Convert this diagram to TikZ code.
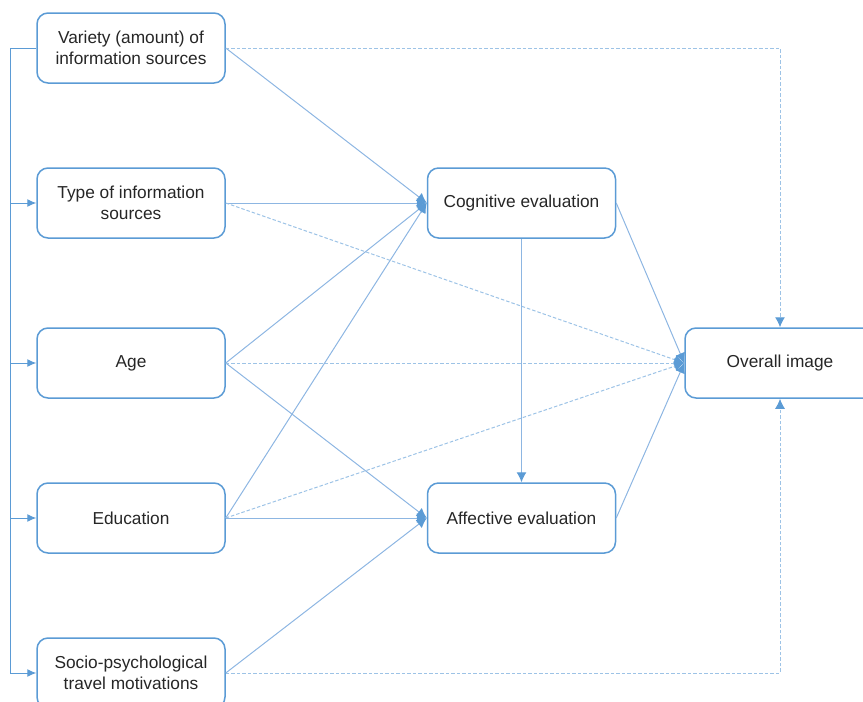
\documentclass[tikz,border=0pt]{standalone}
\usepackage{fontspec}
\setmainfont{Liberation Sans}
\usetikzlibrary{arrows.meta}
\definecolor{boxc}{HTML}{5B9BD5}
\definecolor{linec}{HTML}{8DB6E2}
\definecolor{dashc}{HTML}{9DC3E6}
\begin{document}
\begin{tikzpicture}[x=1pt,y=-1pt,
  box/.style={draw=boxc,line width=1.5pt,rounded corners=11pt,minimum width=188pt,minimum height=70pt,align=center,font=\fontsize{17.3}{21}\selectfont,text=black!85,inner sep=0pt},
  con/.style={draw=linec,line width=1pt,-{Latex[length=10pt,width=10pt,fill=boxc,color=boxc]}},
  dsh/.style={con,draw=dashc,dash pattern=on 3.5pt off 2pt},
  bus/.style={draw=boxc,line width=1pt},
  bar/.style={bus,-{Latex[length=9pt,width=8pt]}}]
\clip (0,0) rectangle (863,702);
\node[box] (var) at (131,48) {Variety (amount) of\\information sources};
\node[box] (typ) at (131,203) {Type of information\\sources};
\node[box] (age) at (131,363) {Age};
\node[box] (edu) at (131,518) {Education};
\node[box] (soc) at (131,673) {Socio-psychological\\travel motivations};
\node[box] (cog) at (521.5,203) {Cognitive evaluation};
\node[box] (aff) at (521.5,518) {Affective evaluation};
\node[box,minimum width=190pt] (ovr) at (780,363) {Overall image};
% left bus
\coordinate (btop) at (10,48);
\coordinate (bbot) at (10,673);
\draw[bus] (var.west) -- (btop) -- (bbot);
\draw[bar] (bbot) -- (soc.west);
\draw[bar] (btop |- typ.west) -- (typ.west);
\draw[bar] (btop |- age.west) -- (age.west);
\draw[bar] (btop |- edu.west) -- (edu.west);
% to cognitive
\draw[con] (var.east) -- (cog.west);
\draw[con] (typ.east) -- (cog.west);
\draw[con] (age.east) -- (cog.west);
\draw[con] (edu.east) -- (cog.west);
% to affective
\draw[con] (age.east) -- (aff.west);
\draw[con] (edu.east) -- (aff.west);
\draw[con] (soc.east) -- (aff.west);
% dashed to overall
\draw[dsh] (typ.east) -- (ovr.west);
\draw[dsh] (age.east) -- (ovr.west);
\draw[dsh] (edu.east) -- (ovr.west);
\draw[dsh] (var.east) -- (var.east -| ovr.north) -- (ovr.north);
\draw[dsh] (soc.east) -- (soc.east -| ovr.south) -- (ovr.south);
% evaluations to overall
\draw[con] (cog.east) -- (ovr.west);
\draw[con] (aff.east) -- (ovr.west);
\draw[con] (cog.south) -- (aff.north);
\end{tikzpicture}
\end{document}
